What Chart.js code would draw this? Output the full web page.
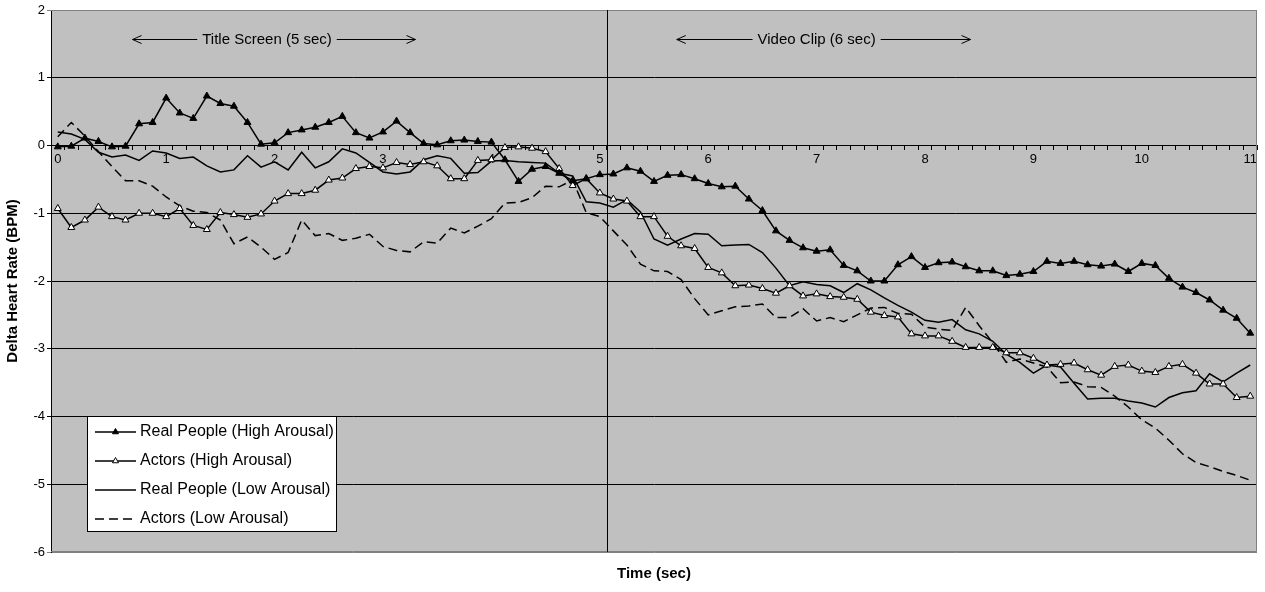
<!DOCTYPE html>
<html>
<head>
<meta charset="utf-8">
<title>Delta Heart Rate</title>
<script src="https://cdn.jsdelivr.net/npm/chart.js@4.4.1/dist/chart.umd.min.js"></script>
<style>
  html, body { margin: 0; padding: 0; background: #fff; }
  canvas { display: block; }
</style>
</head>
<body>
<canvas id="hrChart" width="1265" height="592"></canvas>
<script>
// one sample every 0.125 s, 0 .. 11 s
const sampleStep = 0.125;
const times = Array.from({ length: 89 }, (_, i) => i * sampleStep);
const xTickLabels = ['0', '1', '2', '3', '4', '5', '6', '7', '8', '9', '10', '11'];

const realHigh = [
  -0.02, -0.01, 0.11, 0.06, -0.02, -0.01, 0.32, 0.34, 0.70, 0.48,
  0.40, 0.73, 0.62, 0.58, 0.34, 0.02, 0.04, 0.19, 0.23, 0.27,
  0.34, 0.43, 0.19, 0.11, 0.20, 0.36, 0.19, 0.03, 0.01, 0.07,
  0.08, 0.06, 0.05, -0.21, -0.53, -0.35, -0.31, -0.41, -0.52, -0.49,
  -0.43, -0.42, -0.33, -0.38, -0.53, -0.44, -0.43, -0.49, -0.56, -0.61,
  -0.60, -0.79, -0.96, -1.26, -1.40, -1.51, -1.56, -1.54, -1.77, -1.85,
  -2.00, -2.00, -1.76, -1.64, -1.80, -1.73, -1.72, -1.79, -1.85, -1.85,
  -1.92, -1.90, -1.86, -1.71, -1.74, -1.71, -1.76, -1.78, -1.75, -1.86,
  -1.74, -1.77, -1.96, -2.09, -2.17, -2.28, -2.43, -2.55, -2.77
];

const actorsHigh = [
  -0.93, -1.21, -1.10, -0.91, -1.05, -1.10, -1.00, -1.00, -1.05, -0.93,
  -1.18, -1.24, -0.99, -1.02, -1.06, -1.01, -0.82, -0.71, -0.71, -0.66,
  -0.51, -0.48, -0.34, -0.31, -0.33, -0.25, -0.28, -0.24, -0.30, -0.49,
  -0.49, -0.22, -0.21, -0.03, -0.02, -0.04, -0.09, -0.34, -0.59, -0.49,
  -0.70, -0.79, -0.82, -1.05, -1.05, -1.34, -1.48, -1.52, -1.80, -1.88,
  -2.07, -2.06, -2.11, -2.18, -2.07, -2.22, -2.19, -2.23, -2.24, -2.27,
  -2.46, -2.51, -2.53, -2.78, -2.81, -2.81, -2.89, -2.98, -2.98, -2.98,
  -3.06, -3.06, -3.14, -3.24, -3.23, -3.21, -3.31, -3.39, -3.26, -3.24,
  -3.33, -3.35, -3.26, -3.23, -3.36, -3.52, -3.52, -3.72, -3.70
];

const realLow = [
  0.20, 0.17, 0.09, -0.10, -0.17, -0.14, -0.22, -0.08, -0.11, -0.19,
  -0.17, -0.30, -0.39, -0.36, -0.15, -0.32, -0.24, -0.36, -0.10, -0.33,
  -0.24, -0.05, -0.11, -0.25, -0.39, -0.42, -0.39, -0.21, -0.15, -0.19,
  -0.41, -0.40, -0.23, -0.22, -0.24, -0.25, -0.26, -0.41, -0.45, -0.83,
  -0.85, -0.91, -0.80, -0.98, -1.38, -1.47, -1.38, -1.30, -1.31, -1.48,
  -1.47, -1.46, -1.58, -1.81, -2.07, -2.01, -2.05, -2.07, -2.17, -2.04,
  -2.13, -2.25, -2.36, -2.46, -2.58, -2.61, -2.57, -2.72, -2.78, -2.89,
  -3.08, -3.20, -3.36, -3.24, -3.27, -3.51, -3.74, -3.73, -3.73, -3.77,
  -3.80, -3.86, -3.72, -3.65, -3.62, -3.37, -3.49, -3.36, -3.24
];

const actorsLow = [
  0.13, 0.34, 0.14, -0.09, -0.31, -0.52, -0.52, -0.60, -0.76, -0.89,
  -0.97, -0.99, -1.10, -1.45, -1.35, -1.50, -1.68, -1.58, -1.10, -1.33,
  -1.30, -1.40, -1.37, -1.31, -1.49, -1.55, -1.57, -1.42, -1.44, -1.22,
  -1.29, -1.19, -1.08, -0.85, -0.84, -0.77, -0.60, -0.61, -0.51, -0.99,
  -1.05, -1.26, -1.47, -1.75, -1.85, -1.86, -1.98, -2.26, -2.50, -2.44,
  -2.38, -2.37, -2.34, -2.54, -2.54, -2.41, -2.59, -2.54, -2.60, -2.50,
  -2.40, -2.39, -2.48, -2.49, -2.68, -2.71, -2.73, -2.39, -2.66, -2.91,
  -3.20, -3.15, -3.21, -3.27, -3.50, -3.49, -3.56, -3.57, -3.70, -3.86,
  -4.05, -4.17, -4.35, -4.55, -4.68, -4.74, -4.81, -4.87, -4.94
];

// phase labels across the top, in seconds
const phases = [
  { label: 'Title Screen (5 sec)', start: 0.69, centre: 1.93, end: 3.3 },
  { label: 'Video Clip (6 sec)', start: 5.71, centre: 7.0, end: 8.42 }
];
const phaseLevel = 1.57;
const dividerIndex = 40.5; // boundary between title screen and video clip samples

const FONT = "'Liberation Sans', Arial, sans-serif";

const plotBackground = {
  id: 'plotBackground',
  beforeDraw(chart) {
    const { ctx, chartArea: a } = chart;
    ctx.save();
    ctx.fillStyle = '#fff';
    ctx.fillRect(0, 0, chart.width, chart.height);
    ctx.fillStyle = '#c0c0c0';
    ctx.fillRect(a.left, a.top, a.right - a.left, a.bottom - a.top);
    ctx.restore();
  },
  afterDatasetsDraw(chart) {
    const { ctx, chartArea: a } = chart;
    const x = chart.scales.x;
    ctx.save();
    ctx.lineWidth = 1;
    ctx.strokeStyle = '#808080';
    ctx.beginPath();
    ctx.moveTo(a.left, a.top + 0.5);
    ctx.lineTo(a.right - 0.5, a.top + 0.5);
    ctx.lineTo(a.right - 0.5, a.bottom - 0.5);
    ctx.lineTo(a.left, a.bottom - 0.5);
    ctx.stroke();

    // start of the video clip
    const dx = Math.round(x.getPixelForValue(dividerIndex)) + 0.5;
    ctx.strokeStyle = '#000';
    ctx.beginPath();
    ctx.moveTo(dx, a.top);
    ctx.lineTo(dx, a.bottom);
    ctx.stroke();

    // phase labels with arrows
    const py = Math.round(chart.scales.y.getPixelForValue(phaseLevel)) + 0.5;
    ctx.font = '15px ' + FONT;
    ctx.fillStyle = '#000';
    ctx.textAlign = 'center';
    ctx.textBaseline = 'middle';
    phases.forEach(p => {
      const sx = x.getPixelForValue(p.start / sampleStep);
      const cx = x.getPixelForValue(p.centre / sampleStep);
      const ex = x.getPixelForValue(p.end / sampleStep);
      const w = ctx.measureText(p.label).width;
      ctx.fillText(p.label, cx, py);
      ctx.beginPath();
      ctx.moveTo(sx, py);
      ctx.lineTo(cx - w / 2 - 5, py);
      ctx.moveTo(sx + 9, py - 4);
      ctx.lineTo(sx, py);
      ctx.lineTo(sx + 9, py + 4);
      ctx.moveTo(cx + w / 2 + 5, py);
      ctx.lineTo(ex, py);
      ctx.moveTo(ex - 9, py - 4);
      ctx.lineTo(ex, py);
      ctx.lineTo(ex - 9, py + 4);
      ctx.stroke();
    });
    ctx.restore();
  }
};

const boxLegend = {
  id: 'boxLegend',
  afterDraw(chart) {
    const { ctx, chartArea: a } = chart;
    const left = a.left + 36, top = a.top + 406, width = 250, height = 116;
    ctx.save();
    ctx.fillStyle = '#fff';
    ctx.fillRect(left, top, width, height);
    ctx.strokeStyle = '#000';
    ctx.lineWidth = 1;
    ctx.strokeRect(left + 0.5, top + 0.5, width - 1, height - 1);
    ctx.font = '16px ' + FONT;
    ctx.textAlign = 'left';
    ctx.textBaseline = 'middle';
    chart.data.datasets.forEach((ds, i) => {
      const y = top + 16 + i * 29;
      ctx.strokeStyle = '#000';
      ctx.lineWidth = ds.borderWidth;
      ctx.setLineDash(ds.borderDash || []);
      ctx.beginPath();
      ctx.moveTo(left + 8, y);
      ctx.lineTo(left + 49, y);
      ctx.stroke();
      ctx.setLineDash([]);
      if (ds.pointRadius > 0) {
        ctx.fillStyle = ds.pointBackgroundColor;
        ctx.lineWidth = 1;
        Chart.helpers.drawPoint(ctx, { pointStyle: ds.pointStyle, radius: 3.5, rotation: 0, borderWidth: 1 }, left + 28.5, y);
      }
      ctx.fillStyle = '#000';
      ctx.fillText(ds.label, left + 53, y);
    });
    ctx.restore();
  }
};

new Chart(document.getElementById('hrChart'), {
  type: 'line',
  data: {
    labels: times,
    datasets: [
      {
        label: 'Real People (High Arousal)',
        data: realHigh,
        borderColor: '#000', borderWidth: 1.5,
        pointStyle: 'triangle', pointRadius: 4,
        pointBackgroundColor: '#000', pointBorderColor: '#000', pointBorderWidth: 1,
        xAxisID: 'x', yAxisID: 'y'
      },
      {
        label: 'Actors (High Arousal)',
        data: actorsHigh,
        borderColor: '#000', borderWidth: 1.5,
        pointStyle: 'triangle', pointRadius: 4,
        pointBackgroundColor: '#fff', pointBorderColor: '#000', pointBorderWidth: 1,
        xAxisID: 'x', yAxisID: 'y'
      },
      {
        label: 'Real People (Low Arousal)',
        data: realLow,
        borderColor: '#000', borderWidth: 1.5,
        pointRadius: 0,
        xAxisID: 'x', yAxisID: 'y'
      },
      {
        label: 'Actors (Low Arousal)',
        data: actorsLow,
        borderColor: '#000', borderWidth: 1.5, borderDash: [9, 5],
        pointRadius: 0,
        xAxisID: 'x', yAxisID: 'y'
      }
    ]
  },
  options: {
    responsive: false,
    animation: false,
    devicePixelRatio: 1,
    layout: { padding: { left: 0, right: 8, top: 10, bottom: 0 } },
    elements: { line: { tension: 0, fill: false } },
    plugins: {
      legend: { display: false },
      tooltip: { enabled: false }
    },
    scales: {
      x: {
        type: 'category',
        offset: true,
        position: { y: 0 },
        afterFit(scale) { scale.height = 0; },
        grid: { offset: true, drawOnChartArea: false, drawTicks: true, tickLength: 4, color: '#000', lineWidth: 1 },
        border: { display: true, color: '#000', width: 1 },
        ticks: {
          autoSkip: false, maxRotation: 0, minRotation: 0, padding: 2,
          color: '#000', font: { family: FONT, size: 13 },
          callback(value, index) { return index % 8 === 0 ? xTickLabels[index / 8] : ''; }
        }
      },
      xTitle: {
        type: 'linear',
        position: 'bottom',
        grid: { display: false, drawTicks: false },
        border: { display: false },
        ticks: { display: false },
        title: {
          display: true, text: 'Time (sec)', color: '#000',
          font: { family: FONT, size: 15, weight: 'bold' },
          padding: { top: 13, bottom: 9 }
        }
      },
      y: {
        type: 'linear',
        position: 'left',
        min: -6, max: 2,
        afterFit(scale) { scale.width = 51; },
        ticks: { stepSize: 1, padding: 2, color: '#000', font: { family: FONT, size: 13 } },
        grid: {
          color: c => (c.tick && (c.tick.value === 2 || c.tick.value === -6)) ? '#808080' : '#000',
          lineWidth: 1, tickLength: 4, drawTicks: true
        },
        border: { display: true, color: '#000', width: 1 },
        title: {
          display: true, text: 'Delta Heart Rate (BPM)', color: '#000',
          font: { family: FONT, size: 15, weight: 'bold' },
          padding: { top: 4, bottom: 0 }
        }
      }
    }
  },
  plugins: [plotBackground, boxLegend]
});
</script>
</body>
</html>
